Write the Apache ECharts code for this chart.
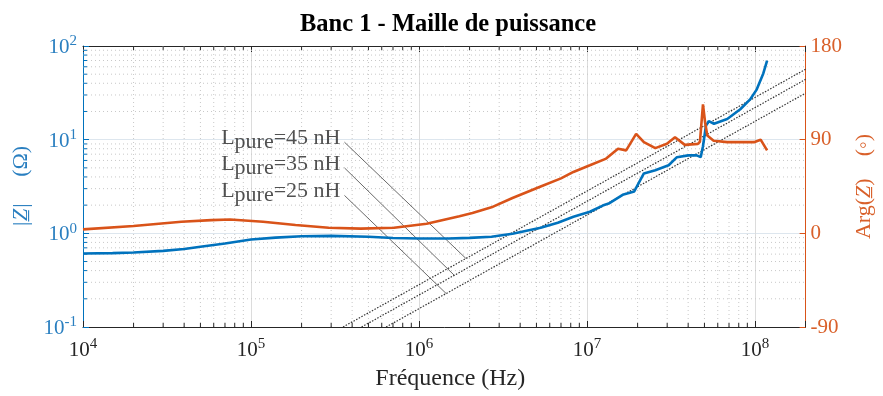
<!DOCTYPE html>
<html>
<head>
<meta charset="utf-8">
<script src="https://cdn.jsdelivr.net/npm/echarts@6/dist/echarts.min.js"></script>
<style>
    html, body { margin: 0; padding: 0; background: #fff; }
    #chart1 { width: 883px; height: 396px; }
</style>
</head>
<body>
<div id="chart1"></div>
<script>
    // mesure |Z| (Hz, ohm)
    var freqMag = [1e4, 1.5e4, 2e4, 3e4, 4e4, 5e4, 7e4, 1e5, 1.4e5, 2e5, 3e5, 5e5, 7e5, 1e6, 1.5e6, 2e6, 2.7e6,
        3.6e6, 5.3e6, 6.7e6, 8.3e6, 1.04e7, 1.24e7, 1.36e7, 1.63e7, 1.91e7, 2.18e7, 2.55e7, 3.06e7, 3.43e7, 4e7,
        4.5e7, 4.75e7, 4.9e7, 5.1e7, 5.3e7, 5.7e7, 6.83e7, 8.17e7, 9.35e7, 1.02e8, 1.12e8, 1.18e8]
    var magZ = [0.61, 0.615, 0.625, 0.65, 0.68, 0.72, 0.78, 0.86, 0.9, 0.93, 0.94, 0.92, 0.89, 0.88, 0.88, 0.895, 0.92,
        0.99, 1.15, 1.3, 1.5, 1.7, 1.98, 2.1, 2.58, 2.8, 4.36, 4.72, 5.33, 6.5, 6.8,
        6.8, 6.5, 8.5, 14, 15.8, 14.8, 16.6, 21.1, 26.9, 34, 51, 70]

    // mesure Arg(Z) (Hz, degres)
    var freqArg = [1e4, 2e4, 3.85e4, 5.8e4, 7.5e4, 1.18e5, 1.84e5, 2.9e5, 4.5e5, 7.1e5, 1.11e6, 1.74e6, 2.08e6, 2.7e6,
        3.6e6, 5.3e6, 7e6, 8.3e6, 1.04e7, 1.3e7, 1.53e7, 1.71e7, 1.96e7, 2.18e7, 2.55e7, 2.99e7, 3.34e7, 3.82e7,
        4.57e7, 4.7e7, 4.9e7, 5.05e7, 5.2e7, 5.67e7, 6.83e7, 9.86e7, 1.08e8, 1.18e8]
    var argZ = [3.8, 7, 11.1, 12.7, 13.3, 11.1, 8, 5.4, 4.5, 5.4, 9.2, 16.5, 19.6, 25,
        33.9, 45, 52.8, 59, 65.4, 71.8, 81.3, 79.7, 95.5, 87.6, 81.9, 86, 92.4, 85,
        86, 88, 124, 106, 94, 89, 87.6, 87.6, 90, 79.7]

    // droites L pure (extremites [f, |Z|])
    var lpure45 = [[3.53e5, 0.1], [2e8, 56.5]]
    var lpure35 = [[4.55e5, 0.1], [2e8, 44]]
    var lpure25 = [[6.37e5, 0.1], [2e8, 31.4]]

    // traits de renvoi des etiquettes
    var leader45 = [[3.6e5, 9.4], [1.9e6, 0.54]]
    var leader35 = [[3.6e5, 5.0], [1.62e6, 0.357]]
    var leader25 = [[3.6e5, 2.54], [1.45e6, 0.228]]
    var lpureValues = ['45', '35', '25']

    // graduations
    var xDecades = [1e4, 1e5, 1e6, 1e7, 1e8]
    var yDecades = [0.1, 1, 10]
    var minorMult = [2, 3, 4, 5, 6, 7, 8, 9]
    var argTicks = [-90, 0, 90, 180]

    var BLUE = '#0072BD'
    var ORANGE = '#D95319'
    var DARK = '#262626'
    var FONT = 'Liberation Serif'
    var X_MIN = 1e4, X_MAX = 2e8, Y_MIN = 0.1, Y_MAX = 100

    var xMinor = []
    xDecades.forEach(function (d) {
        minorMult.forEach(function (m) { if (d * m < X_MAX) xMinor.push([d * m, 1]) })
    })
    var yMinor = []
    yDecades.forEach(function (d) {
        minorMult.forEach(function (m) { yMinor.push([X_MIN, d * m]) })
    })

    function powLabel(value) {
        var l = Math.log(value) / Math.LN10
        var e = Math.round(l)
        if (Math.abs(l - e) > 1e-6) return ''
        return '{b|10}{s|' + e + '}'
    }
    function powRich(color) {
        return {
            b: {fontFamily: FONT, fontSize: 21, color: color, lineHeight: 24, verticalAlign: 'bottom'},
            s: {fontFamily: FONT, fontSize: 15, color: color, lineHeight: 15, verticalAlign: 'top'}
        }
    }
    function pairs(xs, ys) {
        return xs.map(function (x, i) { return [x, ys[i]] })
    }
    function dotted(data) {
        return {
            type: 'line', data: data, xAxisIndex: 0, yAxisIndex: 0, symbol: 'none', silent: true, z: 3,
            lineStyle: {color: '#333', width: 1.2, type: [1.5, 1.5]}
        }
    }
    function leader(data) {
        return {
            type: 'line', data: data, xAxisIndex: 0, yAxisIndex: 0, symbol: 'none', silent: true, z: 3,
            lineStyle: {color: '#444', width: 0.8}
        }
    }

    var chart = echarts.init(document.getElementById('chart1'))
    chart.setOption({
        animation: false,
        backgroundColor: '#fff',
        title: {
            text: 'Banc 1 - Maille de puissance',
            left: 300,
            top: 7,
            padding: [5, 0, 5, 0],
            textStyle: {fontFamily: FONT, fontSize: 24.5, fontWeight: 'bold', color: '#000'}
        },
        grid: {left: 83, right: 64, top: 46, bottom: 65},
        xAxis: [
            {
                type: 'log', min: X_MIN, max: X_MAX, position: 'bottom',
                axisLine: {onZero: false, lineStyle: {color: DARK, width: 1}},
                axisTick: {inside: true, length: 6, lineStyle: {color: DARK}},
                axisLabel: {margin: 10, formatter: powLabel, rich: powRich(DARK)},
                splitLine: {show: true, lineStyle: {color: '#dcdcdc'}},
                name: 'Fréquence (Hz)', nameLocation: 'middle', nameGap: 40,
                nameTextStyle: {fontFamily: FONT, fontSize: 24, color: DARK, padding: [0, 0, 0, 12]}
            },
            {
                type: 'log', min: X_MIN, max: X_MAX, position: 'top',
                axisLine: {onZero: false, lineStyle: {color: DARK, width: 1}},
                axisTick: {inside: true, length: 6, lineStyle: {color: DARK}},
                axisLabel: {show: false},
                splitLine: {show: false}
            }
        ],
        yAxis: [
            {
                type: 'log', min: Y_MIN, max: Y_MAX, position: 'left',
                axisLine: {show: true, onZero: false, lineStyle: {color: BLUE, width: 1}},
                axisTick: {show: true, inside: true, length: 6, lineStyle: {color: BLUE}},
                axisLabel: {margin: 6, formatter: powLabel, rich: powRich('#2a7fc0')},
                splitLine: {show: true, lineStyle: {color: '#dde6ee'}},
                name: '{i|\u007CZ\u0332\u007C}{g| }{n|(Ω)}', nameLocation: 'middle', nameGap: 41, nameRotate: 90,
                nameTextStyle: {
                    color: '#2a7fc0',
                    rich: {
                        i: {fontFamily: FONT, fontSize: 22, fontStyle: 'italic', color: '#2a7fc0'},
                        g: {width: 26},
                        n: {fontFamily: FONT, fontSize: 22, color: '#2a7fc0'}
                    }
                }
            },
            {
                type: 'value', min: argTicks[0], max: argTicks[argTicks.length - 1], interval: 90, position: 'right',
                axisLine: {show: true, onZero: false, lineStyle: {color: ORANGE, width: 1}},
                axisTick: {show: true, inside: true, length: 6, lineStyle: {color: ORANGE}},
                axisLabel: {margin: 5, color: '#d9602a', fontFamily: FONT, fontSize: 21},
                splitLine: {show: false},
                name: '{n|Arg(}{i|Z\u0332}{n|)}{g| }{n|(◦)}', nameLocation: 'middle', nameGap: 44, nameRotate: 90,
                nameTextStyle: {
                    color: '#d9602a',
                    rich: {
                        i: {fontFamily: FONT, fontSize: 22, fontStyle: 'italic', color: '#d9602a'},
                        g: {width: 22},
                        n: {fontFamily: FONT, fontSize: 22, color: '#d9602a'}
                    }
                }
            }
        ],
        series: [
            {
                // grille et graduations secondaires en x
                type: 'custom', xAxisIndex: 0, yAxisIndex: 0, silent: true, z: 1,
                data: xMinor,
                renderItem: function (params, api) {
                    var a = api.coord([api.value(0), Y_MIN])
                    var b = api.coord([api.value(0), Y_MAX])
                    return {
                        type: 'group', children: [
                            {type: 'line', shape: {x1: a[0], y1: a[1], x2: b[0], y2: b[1]}, style: {stroke: '#c8c8c8', lineWidth: 1, lineDash: [1, 3]}},
                            {type: 'line', shape: {x1: a[0], y1: a[1], x2: a[0], y2: a[1] - 4}, style: {stroke: DARK, lineWidth: 1}},
                            {type: 'line', shape: {x1: b[0], y1: b[1], x2: b[0], y2: b[1] + 4}, style: {stroke: DARK, lineWidth: 1}}
                        ]
                    }
                }
            },
            {
                // grille et graduations secondaires en y
                type: 'custom', xAxisIndex: 0, yAxisIndex: 0, silent: true, z: 1,
                data: yMinor,
                renderItem: function (params, api) {
                    var a = api.coord([X_MIN, api.value(1)])
                    var b = api.coord([X_MAX, api.value(1)])
                    return {
                        type: 'group', children: [
                            {type: 'line', shape: {x1: a[0], y1: a[1], x2: b[0], y2: b[1]}, style: {stroke: '#c8c8c8', lineWidth: 1, lineDash: [1, 3]}},
                            {type: 'line', shape: {x1: a[0], y1: a[1], x2: a[0] + 4, y2: a[1]}, style: {stroke: BLUE, lineWidth: 1}}
                        ]
                    }
                }
            },
            dotted(lpure45),
            dotted(lpure35),
            dotted(lpure25),
            leader(leader45),
            leader(leader35),
            leader(leader25),
            {
                type: 'scatter', xAxisIndex: 0, yAxisIndex: 0, symbolSize: 0, silent: true, z: 4,
                data: [leader45[0], leader35[0], leader25[0]],
                label: {
                    show: true, position: 'left', distance: 4,
                    formatter: function (p) {
                        return '{n|L}{s|pure}{n|=' + lpureValues[p.dataIndex] + ' nH}'
                    },
                    rich: {
                        n: {fontFamily: FONT, fontSize: 22, color: DARK, lineHeight: 22, padding: [0, 0, 4, 0], verticalAlign: 'bottom'},
                        s: {fontFamily: FONT, fontSize: 22, color: DARK, lineHeight: 22, verticalAlign: 'bottom'}
                    }
                }
            },
            {
                name: '|Z|', type: 'line', xAxisIndex: 0, yAxisIndex: 0, symbol: 'none', z: 5,
                data: pairs(freqMag, magZ),
                lineStyle: {color: BLUE, width: 2.6}
            },
            {
                name: 'Arg(Z)', type: 'line', xAxisIndex: 0, yAxisIndex: 1, symbol: 'none', z: 5,
                data: pairs(freqArg, argZ),
                lineStyle: {color: ORANGE, width: 2.6}
            }
        ]
    })
</script>
</body>
</html>
